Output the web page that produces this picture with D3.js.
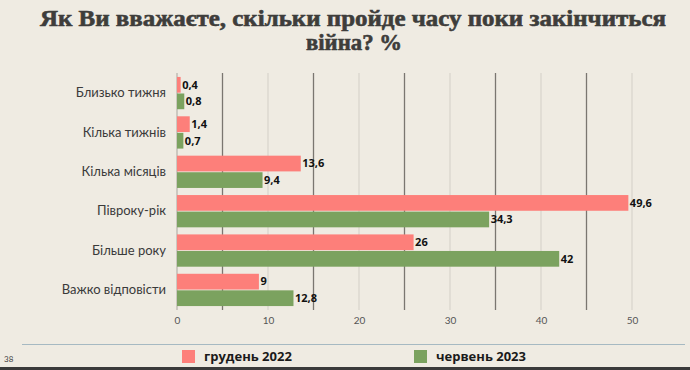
<!DOCTYPE html>
<html>
<head>
<meta charset="utf-8">
<script src="https://cdn.jsdelivr.net/npm/d3@7"></script>
<style>
  html, body { margin: 0; padding: 0; background: #efebe2; }
  svg { display: block; }
</style>
</head>
<body>
<div class="chart-container"></div>
<script>
const categories = ["Близько тижня", "Кілька тижнів", "Кілька місяців", "Півроку-рік", "Більше року", "Важко відповісти"]
const seriesNames = ["грудень 2022", "червень 2023"]
const dec2022 = [0.4, 1.4, 13.6, 49.6, 26, 9]
const jun2023 = [0.8, 0.7, 9.4, 34.3, 42, 12.8]
const xTicks = [0, 10, 20, 30, 40, 50]
const gridValues = [0, 5, 10, 15, 20, 25, 30, 35, 40, 45, 50]
const colors = ["#fd7f7a", "#7ba25f"]

const width = 690
const height = 370

const svg = d3.select('.chart-container')
  .append('svg')
    .attr('width', width)
    .attr('height', height)

svg.append('rect')
  .attr('width', width).attr('height', height)
  .attr('fill', '#efebe2')

// title, two lines (heavy condensed serif in the original)
const title = svg.append('g')
  .attr('font-family', '"Liberation Serif", serif')
  .attr('font-weight', 'bold')
  .attr('font-size', 23)
  .attr('fill', '#3e3d3b')
  .attr('stroke', '#3e3d3b')
  .attr('stroke-width', 0.6)
  .attr('text-anchor', 'middle')
title.append('text')
  .attr('x', 353).attr('y', 26)
  .attr('textLength', 626).attr('lengthAdjust', 'spacingAndGlyphs')
  .text('Як Ви вважаєте, скільки пройде часу поки закінчиться')
title.append('text')
  .attr('x', 354).attr('y', 50)
  .attr('textLength', 96).attr('lengthAdjust', 'spacingAndGlyphs')
  .text('війна? %')

const xScale = d3.scaleLinear().domain([0, 50]).range([177, 632])
const yScale = d3.scaleBand()
  .domain(categories)
  .range([73, 310])
  .paddingInner(0.18)
  .paddingOuter(0.1)
const inner = d3.scaleBand()
  .domain(seriesNames)
  .range([0, yScale.bandwidth()])
  .paddingInner(0.05)

// gridlines, every 5 with darker odd ones
svg.append('g').selectAll('line')
  .data(gridValues)
  .enter().append('line')
    .attr('x1', d => xScale(d)).attr('x2', d => xScale(d))
    .attr('y1', 73).attr('y2', 310)
    .attr('stroke', d => d === 0 ? '#a8a59f' : (d % 10 === 5 ? '#7a7670' : '#d3cfc7'))
    .attr('stroke-width', d => d % 10 === 5 ? 1.3 : 1)

// x axis labels
const xAxis = svg.append('g')
  .attr('transform', 'translate(0, 317)')
  .call(d3.axisBottom(xScale).tickValues(xTicks).tickSize(0).tickPadding(0))
xAxis.select('.domain').remove()
xAxis.selectAll('text')
  .attr('dy', '0.71em')
  .attr('font-family', 'Lato, sans-serif')
  .attr('font-size', 10)
  .attr('fill', '#555')

// category labels
const yAxis = svg.append('g')
  .attr('transform', 'translate(166, 0)')
  .call(d3.axisLeft(yScale).tickSize(0).tickPadding(0))
yAxis.select('.domain').remove()
yAxis.selectAll('text')
  .attr('font-family', 'Lato, sans-serif')
  .attr('font-size', 13)
  .attr('fill', '#3a3a3a')

// bars
const rows = categories.map((c, i) => ({
  cat: c,
  vals: [
    { s: seriesNames[0], v: dec2022[i], c: colors[0] },
    { s: seriesNames[1], v: jun2023[i], c: colors[1] }
  ]
}))
const fmt = v => String(v).replace('.', ',')

const groups = svg.append('g').selectAll('g')
  .data(rows)
  .enter().append('g')
    .attr('transform', d => `translate(0, ${yScale(d.cat)})`)

groups.selectAll('rect')
  .data(d => d.vals)
  .enter().append('rect')
    .attr('x', xScale(0))
    .attr('y', d => inner(d.s))
    .attr('width', d => xScale(d.v) - xScale(0))
    .attr('height', inner.bandwidth())
    .attr('fill', d => d.c)

groups.selectAll('text')
  .data(d => d.vals)
  .enter().append('text')
    .attr('x', d => xScale(d.v) + 1.5)
    .attr('y', d => inner(d.s) + inner.bandwidth() / 2)
    .attr('dy', '0.35em')
    .attr('font-family', '"Open Sans", sans-serif')
    .attr('font-weight', 'bold')
    .attr('font-size', 11)
    .attr('fill', '#111')
    .text(d => fmt(d.v))

// separator + legend
svg.append('line')
  .attr('x1', 22).attr('x2', 685)
  .attr('y1', 344.5).attr('y2', 344.5)
  .attr('stroke', '#a6b9c2').attr('stroke-width', 1)

const legendX = [182, 414]
const legend = svg.append('g').selectAll('g')
  .data(seriesNames)
  .enter().append('g')
    .attr('transform', (d, i) => `translate(${legendX[i]}, 350)`)
legend.append('rect')
  .attr('width', 13).attr('height', 13)
  .attr('fill', (d, i) => colors[i])
legend.append('text')
  .attr('x', 22).attr('y', 11)
  .attr('font-family', '"Open Sans", sans-serif')
  .attr('font-weight', 'bold')
  .attr('font-size', 13)
  .attr('fill', '#1a1a1a')
  .text(d => d)

svg.append('text')
  .attr('x', 4).attr('y', 362)
  .attr('font-family', 'Lato, sans-serif')
  .attr('font-size', 8)
  .attr('fill', '#444')
  .text('38')

svg.append('rect')
  .attr('x', 0).attr('y', 367)
  .attr('width', width).attr('height', 3)
  .attr('fill', '#3a3a3a')
</script>
</body>
</html>
